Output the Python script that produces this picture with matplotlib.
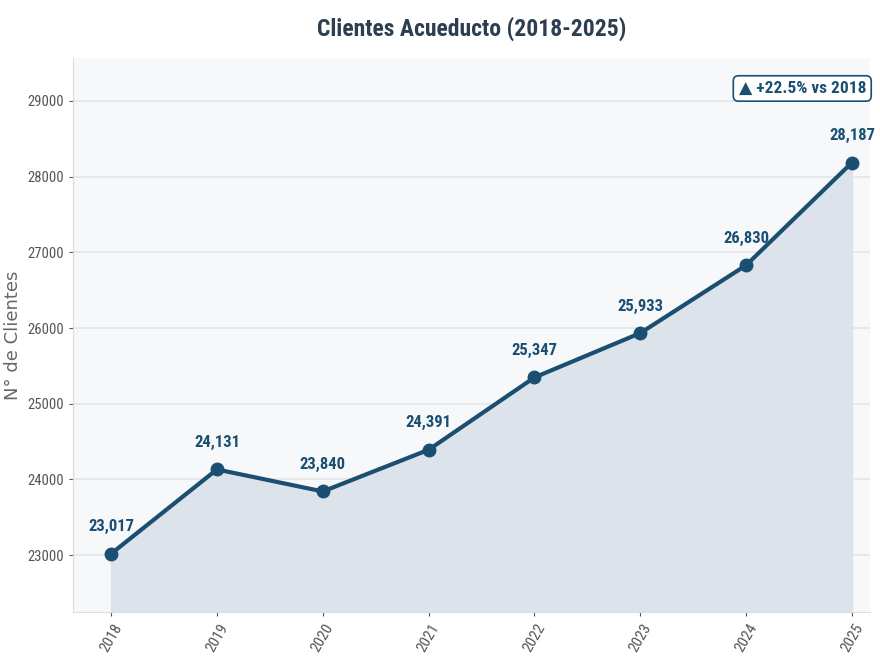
import matplotlib
matplotlib.use("Agg")
import matplotlib.pyplot as plt
import numpy as np
from matplotlib import font_manager as fm

years = ["2018", "2019", "2020", "2021", "2022", "2023", "2024", "2025"]
clientes = [23017, 24131, 23840, 24391, 25347, 25933, 26830, 28187]
yticks = [23000, 24000, 25000, 26000, 27000, 28000, 29000]

def _is_cond(f):
    return ("Condensed" in f.name or "Narrow" in f.name or
            (str(f.stretch) in ("condensed", "semi-condensed", "extra-condensed")))

def _w(f):
    try:
        return int(f.weight)
    except Exception:
        return 700 if "bold" in str(f.weight) else 400

cands = [f for f in fm.fontManager.ttflist if _is_cond(f)]
bold_c = [f for f in cands if _w(f) >= 600]
pref = ["Roboto Condensed", "Open Sans Condensed", "DejaVu Sans Condensed", "Liberation Sans Narrow"]
fam = None
for p in pref:
    if any(f.name == p for f in bold_c):
        fam = p
        break
if fam is None and bold_c:
    fam = bold_c[0].name
families = [fam, "DejaVu Sans"] if fam else ["DejaVu Sans"]

def fp(size, bold=False):
    return fm.FontProperties(family=families, size=size,
                             weight="bold" if bold else "normal")

color = "#1b4f72"
fig = plt.figure(figsize=(8.8, 6.68), dpi=100)
ax = fig.add_axes([73/880, 1-612/668, (870-73)/880, (612-58)/668])
ax.set_facecolor("#f7f8fa")
x = np.arange(len(years))
ax.fill_between(x, clientes, 22247, color="#dce3ea", zorder=1)
ax.plot(x, clientes, color=color, lw=3, marker="o", ms=9, zorder=3)
for xi, v in zip(x, clientes):
    ax.annotate(f"{v:,}", (xi, v), xytext=(0, 14), textcoords="offset points",
                ha="center", va="bottom", fontproperties=fp(12, True), color=color)
ax.set_xlim(-0.36, 7.17)
ax.set_ylim(22247, 29568)
ax.set_xticks(x)
ax.set_xticklabels(years, rotation=60, color="#333333")
ax.set_yticks(yticks)
ax.set_yticklabels([str(t) for t in yticks], color="#333333")
for lbl in ax.get_xticklabels():
    lbl.set_fontproperties(fp(11))
for lbl in ax.get_yticklabels():
    lbl.set_fontproperties(fp(10.5))
ax.grid(axis="y", color="#e3e5e8", lw=1.2, zorder=0)
ax.set_axisbelow(True)
for s in ["top", "right"]:
    ax.spines[s].set_visible(False)
for s in ["left", "bottom"]:
    ax.spines[s].set_color("#dddddd")
ax.tick_params(colors="#555555", length=3)
ax.set_ylabel("N° de Clientes", fontsize=13, color="#666666", family="DejaVu Sans")
ax.yaxis.set_label_coords(-0.064, 0.5)
ax.set_title("Clientes Acueducto (2018-2025)", fontproperties=fp(17, True), color="#2c3e50", pad=16)
pct = (clientes[-1] / clientes[0] - 1) * 100
ax.text(0.995, 0.945, f"▲ +{pct:.1f}% vs 2018", transform=ax.transAxes, ha="right", va="center",
        fontproperties=fp(12.5, True), color=color,
        bbox=dict(boxstyle="round,pad=0.3", fc="white", ec=color, lw=1.2))
fig.savefig("out.png", dpi=100)
